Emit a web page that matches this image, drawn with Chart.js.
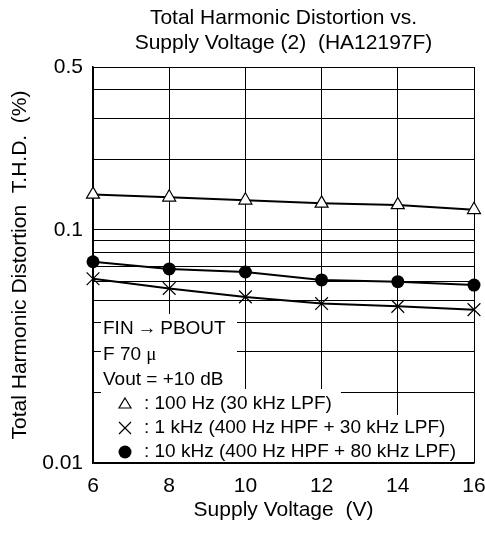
<!DOCTYPE html>
<html>
<head>
<meta charset="utf-8">
<script src="https://cdn.jsdelivr.net/npm/chart.js@4/dist/chart.umd.min.js"></script>
<style>
  body { margin: 0; background: #fff; }
  canvas { display: block; }
</style>
</head>
<body>
<canvas id="thdChart" width="485" height="535"></canvas>
<script>
// supply voltage (V)
var voltages = [6, 8, 10, 12, 14, 16];
// T.H.D. (%)
var thd100Hz = [0.142, 0.138, 0.134, 0.130, 0.128, 0.122];
var thd1kHz = [0.0617, 0.0561, 0.0516, 0.0483, 0.0470, 0.0455];
var thd10kHz = [0.073, 0.068, 0.066, 0.061, 0.060, 0.058];

var yGridValues = [0.01, 0.02, 0.03, 0.04, 0.05, 0.06, 0.07, 0.08, 0.09, 0.1, 0.2, 0.3, 0.4, 0.5];
var yTickLabels = [0.01, 0.1, 0.5];
var titleLines = ["Total Harmonic Distortion vs.", "Supply Voltage (2)  (HA12197F)"];
var noteLines = ["FIN\u2009\u2192\u2009PBOUT", "F 70 ", "Vout = +10 dB"];
var legendLabels = [": 100 Hz (30 kHz LPF)", ": 1 kHz (400 Hz HPF + 30 kHz LPF)", ": 10 kHz (400 Hz HPF + 80 kHz LPF)"];

var FONT = "Liberation Sans, Arial, sans-serif";
var FS = 21;   // titles and ticks
var NS = 19;   // notes inside the plot

function toPoints(ys) {
  return voltages.map(function (v, i) { return { x: v, y: ys[i] }; });
}

// title drawn over the plot area
var titlePlugin = {
  id: "twoLineTitle",
  afterDraw: function (chart) {
    var ctx = chart.ctx;
    var a = chart.chartArea;
    var cx = (a.left + a.right) / 2;
    ctx.save();
    ctx.fillStyle = "#000";
    ctx.font = FS + "px " + FONT;
    ctx.textAlign = "center";
    ctx.textBaseline = "middle";
    ctx.fillText(titleLines[0], cx, 18);
    ctx.fillText(titleLines[1], cx, 43);
    ctx.restore();
  }
};

function drawSymbol(ctx, kind, x, y) {
  ctx.save();
  ctx.strokeStyle = "#000";
  ctx.fillStyle = "#000";
  ctx.lineWidth = 1.2;
  ctx.beginPath();
  if (kind === 0) {
    ctx.moveTo(x, y - 6);
    ctx.lineTo(x + 6, y + 4);
    ctx.lineTo(x - 6, y + 4);
    ctx.closePath();
    ctx.stroke();
  } else if (kind === 1) {
    ctx.moveTo(x - 6, y - 6); ctx.lineTo(x + 6, y + 6);
    ctx.moveTo(x + 6, y - 6); ctx.lineTo(x - 6, y + 6);
    ctx.stroke();
  } else {
    ctx.arc(x, y, 6.5, 0, Math.PI * 2);
    ctx.fill();
  }
  ctx.restore();
}

// conditions + legend text with white boxes behind
var notePlugin = {
  id: "notes",
  beforeDatasetsDraw: function (chart) {
    var ctx = chart.ctx;
    var a = chart.chartArea;
    var x0 = a.left + 8;
    var tx = a.left + 10;
    var bottom = a.bottom - 1;
    ctx.save();
    ctx.font = NS + "px " + FONT;
    ctx.textBaseline = "middle";

    // first block
    ctx.fillStyle = "#fff";
    ctx.fillRect(x0, bottom - 148, 237 - x0, 75);
    // legend boxes
    var rowY = [bottom - 58, bottom - 34, bottom - 10];
    var boxTop = [bottom - 73, bottom - 47, bottom - 23];
    var boxBot = [bottom - 47, bottom - 23, bottom];
    for (var i = 0; i < 3; i++) {
      var w = ctx.measureText(legendLabels[i]).width;
      ctx.fillRect(x0, boxTop[i], a.left + 52 + w + 8 - x0, boxBot[i] - boxTop[i]);
    }

    ctx.fillStyle = "#000";
    var ny = [bottom - 133, bottom - 107, bottom - 82];
    for (var j = 0; j < noteLines.length; j++) {
      ctx.fillText(noteLines[j], tx, ny[j]);
    }
    var fw = ctx.measureText(noteLines[1]).width;
    ctx.font = NS + "px Liberation Serif, serif";
    ctx.fillText("\u03bc", tx + fw, ny[1]);
    ctx.font = NS + "px " + FONT;
    for (var k = 0; k < 3; k++) {
      drawSymbol(ctx, k, a.left + 32, rowY[k]);
      ctx.fillText(legendLabels[k], a.left + 51, rowY[k]);
    }
    ctx.restore();
  }
};

new Chart("thdChart", {
  type: "line",
  data: {
    datasets: [
      {
        label: "100 Hz (30 kHz LPF)",
        data: toPoints(thd100Hz),
        borderColor: "#000",
        borderWidth: 2,
        clip: false,
        pointStyle: "triangle",
        pointRadius: 7.5,
        pointBorderWidth: 1.2,
        pointBackgroundColor: "#fff",
        pointBorderColor: "#000"
      },
      {
        label: "1 kHz (400 Hz HPF + 30 kHz LPF)",
        data: toPoints(thd1kHz),
        borderColor: "#000",
        borderWidth: 2,
        clip: false,
        pointStyle: "crossRot",
        pointRadius: 9,
        pointBorderWidth: 1.2,
        pointBackgroundColor: "#fff",
        pointBorderColor: "#000"
      },
      {
        label: "10 kHz (400 Hz HPF + 80 kHz LPF)",
        data: toPoints(thd10kHz),
        borderColor: "#000",
        borderWidth: 2,
        clip: false,
        pointStyle: "circle",
        pointRadius: 6.5,
        pointBorderWidth: 0,
        pointBackgroundColor: "#000",
        pointBorderColor: "#000"
      }
    ]
  },
  options: {
    responsive: false,
    animation: false,
    layout: { padding: { top: 67, left: 0, right: 11, bottom: 0 } },
    plugins: {
      legend: { display: false },
      tooltip: { enabled: false },
      title: { display: false }
    },
    scales: {
      x: {
        type: "linear",
        min: 6,
        max: 16,
        afterFit: function (scale) {
          scale.height = 72;
          scale.paddingLeft = 0;
          scale.paddingRight = 0;
        },
        ticks: {
          stepSize: 2,
          color: "#000",
          padding: 11,
          font: { family: FONT, size: FS }
        },
        grid: { color: "#000", lineWidth: 1, drawTicks: false },
        border: { color: "#000", width: 1.5 },
        title: {
          display: true,
          text: "Supply Voltage  (V)",
          color: "#000",
          font: { family: FONT, size: FS },
          padding: { top: 0, bottom: 12 }
        }
      },
      y: {
        type: "logarithmic",
        min: 0.01,
        max: 0.5,
        afterFit: function (scale) { scale.width = 93; },
        afterBuildTicks: function (scale) {
          scale.ticks = yGridValues.map(function (v) { return { value: v }; });
        },
        ticks: {
          autoSkip: false,
          color: "#000",
          padding: 10,
          font: { family: FONT, size: FS },
          callback: function (value) {
            return yTickLabels.indexOf(value) >= 0 ? String(value) : "";
          }
        },
        grid: { color: "#000", lineWidth: 1, drawTicks: false },
        border: { color: "#000", width: 1.5 },
        title: {
          display: true,
          text: "Total Harmonic Distortion  T.H.D.  (%)",
          color: "#000",
          font: { family: FONT, size: FS },
          padding: { top: 8, bottom: 0 }
        }
      }
    }
  },
  plugins: [titlePlugin, notePlugin]
});
</script>
</body>
</html>
